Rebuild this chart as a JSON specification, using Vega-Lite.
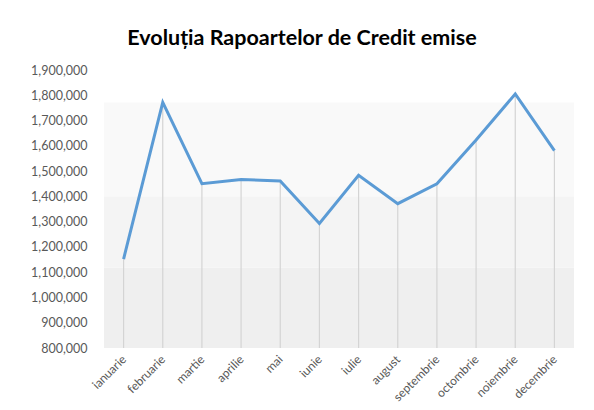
{
  "$schema": "https://vega.github.io/schema/vega-lite/v6.json",
  "autosize": {"type": "none"},
  "width": 470,
  "height": 278,
  "padding": {"left": 104, "top": 70, "right": 20, "bottom": 62},
  "background": "white",
  "config": {
    "view": {"stroke": null},
    "font": "Lato",
    "axis": {"title": null, "ticks": false, "domain": false, "grid": false, "labelColor": "#595959", "labelFont": "Lato", "labelOverlap": false}
  },
  "title": {
    "text": "Evoluția  Rapoartelor  de Credit  emise",
    "anchor": "middle",
    "dx": -37,
    "offset": 15,
    "fontSize": 21.5,
    "fontWeight": "bold",
    "font": "Lato",
    "color": "#000000"
  },
  "datasets": {
    "luni": [
      {"luna": "ianuarie", "valoare": 1152000},
      {"luna": "februarie", "valoare": 1772000},
      {"luna": "martie", "valoare": 1450000},
      {"luna": "aprilie", "valoare": 1467000},
      {"luna": "mai", "valoare": 1461000},
      {"luna": "iunie", "valoare": 1293000},
      {"luna": "iulie", "valoare": 1483000},
      {"luna": "august", "valoare": 1371000},
      {"luna": "septembrie", "valoare": 1450000},
      {"luna": "octombrie", "valoare": 1623000},
      {"luna": "noiembrie", "valoare": 1805000},
      {"luna": "decembrie", "valoare": 1581000}
    ],
    "benzi": [
      {"jos": 800000, "sus": 1118000, "banda": "a"},
      {"jos": 1118000, "sus": 1400000, "banda": "b"},
      {"jos": 1400000, "sus": 1771000, "banda": "c"}
    ]
  },
  "layer": [
    {
      "data": {"name": "benzi"},
      "mark": {"type": "rect"},
      "encoding": {
        "x": {"value": 0},
        "x2": {"value": "width"},
        "y": {
          "field": "jos",
          "type": "quantitative",
          "scale": {"domain": [800000, 1900000], "nice": false, "zero": false},
          "axis": {
            "title": null,
            "values": [800000, 900000, 1000000, 1100000, 1200000, 1300000, 1400000, 1500000, 1600000, 1700000, 1800000, 1900000],
            "format": ",d",
            "labelFontSize": 12.5,
            "labelPadding": 17,
            "labelOverlap": false
          }
        },
        "y2": {"field": "sus"},
        "color": {
          "field": "banda",
          "type": "nominal",
          "scale": {"domain": ["a", "b", "c"], "range": ["#efefef", "#f4f4f4", "#f9f9f9"]},
          "legend": null
        }
      }
    },
    {
      "data": {"name": "luni"},
      "mark": {"type": "rule", "color": "#d4d4d4", "strokeWidth": 1.2},
      "encoding": {
        "x": {
          "field": "luna",
          "type": "ordinal",
          "sort": null,
          "scale": {"type": "point", "padding": 0.5},
          "axis": {
            "title": null,
            "labelAngle": -45,
            "labelAlign": "right",
            "labelBaseline": "middle",
            "labelPadding": 9,
            "labelFontSize": 12
          }
        },
        "y": {
          "field": "valoare",
          "type": "quantitative",
          "axis": {
            "title": null,
            "values": [800000, 900000, 1000000, 1100000, 1200000, 1300000, 1400000, 1500000, 1600000, 1700000, 1800000, 1900000],
            "format": ",d",
            "labelFontSize": 12.5,
            "labelPadding": 17,
            "labelOverlap": false
          }
        },
        "y2": {"datum": 800000}
      }
    },
    {
      "data": {"name": "luni"},
      "mark": {"type": "line", "color": "#5b9bd5", "strokeWidth": 3},
      "encoding": {
        "x": {
          "field": "luna",
          "type": "ordinal",
          "sort": null,
          "axis": {
            "title": null,
            "labelAngle": -45,
            "labelAlign": "right",
            "labelBaseline": "middle",
            "labelPadding": 9,
            "labelFontSize": 12
          }
        },
        "y": {
          "field": "valoare",
          "type": "quantitative",
          "axis": {
            "title": null,
            "values": [800000, 900000, 1000000, 1100000, 1200000, 1300000, 1400000, 1500000, 1600000, 1700000, 1800000, 1900000],
            "format": ",d",
            "labelFontSize": 12.5,
            "labelPadding": 17,
            "labelOverlap": false
          }
        }
      }
    }
  ]
}
